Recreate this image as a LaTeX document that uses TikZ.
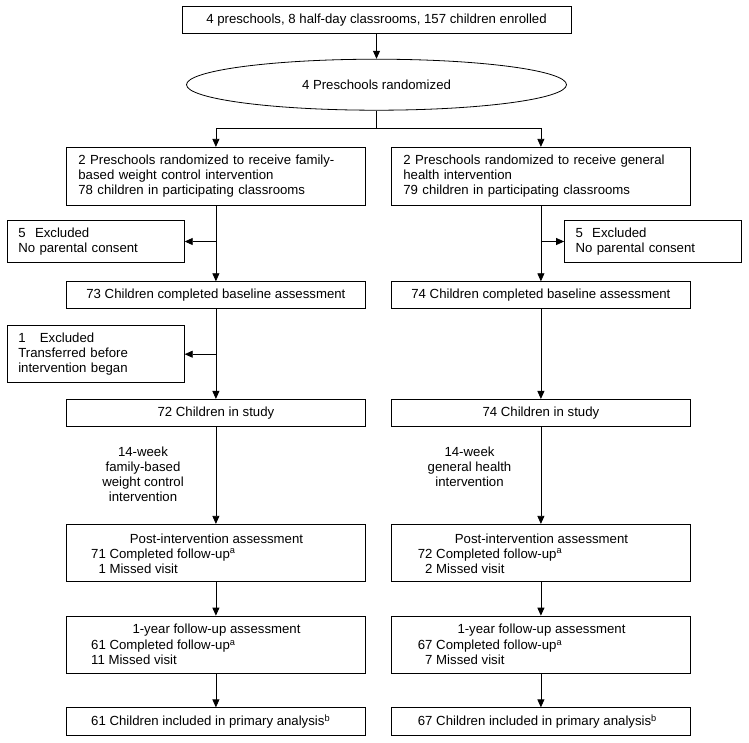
\documentclass[tikz,border=0pt]{standalone}
\usepackage{fontspec}
\setmainfont{Liberation Sans}
\usetikzlibrary{shapes.geometric,arrows.meta}
\tikzset{
  every node/.style={font=\fontsize{13.2}{15}\selectfont, inner sep=0pt},
  box/.style={draw, line width=0.8pt, minimum height=#1},
  colbox/.style={box=#1, minimum width=298.3pt},
  exbox/.style={box=#1, minimum width=177pt, text width=155pt, align=left},
  arr/.style={line width=0.8pt, -{Triangle[length=8pt,width=7pt]}},
  ln/.style={line width=0.8pt},
  lbl/.style={align=center},
  txt/.style={align=left, anchor=west}
}
\begin{document}
\begin{tikzpicture}[x=1pt,y=-1pt]
\useasboundingbox (0,0) rectangle (749,742);
% top
\node[box=26.6pt, minimum width=389pt] (top) at (376.5,20) {4 preschools, 8 half-day classrooms, 157 children enrolled};
\node[draw, ellipse, line width=0.8pt, minimum width=380pt, minimum height=51pt] (ell) at (376.5,84.7) {4 Preschools randomized};
\coordinate (sp) at (376.5,128.3);
% level 2
\node[colbox=58pt, text width=275pt, align=left] (L2L) at (215.9,176.3) {2 Preschools randomized to receive family-\\based weight control intervention\\78 children in participating classrooms};
\node[colbox=58pt, text width=275pt, align=left] (L2R) at (540.9,176.3) {2 Preschools randomized to receive general\\health intervention\\79 children in participating classrooms};
% excluded
\node[exbox=41.6pt] (exL) at (95.8,241.5) {5\hspace{9.4pt}Excluded\\No parental consent};
\node[exbox=41.6pt] (exR) at (653,241.5) {5\hspace{9.4pt}Excluded\\No parental consent};
% baseline
\node[colbox=26.6pt] (baseL) at (215.9,295) {73 Children completed baseline assessment};
\node[colbox=26.6pt] (baseR) at (540.9,295) {74 Children completed baseline assessment};
% excluded 1
\node[exbox=57pt] (ex1) at (95.8,354.2) {1\hspace{14.3pt}Excluded\\Transferred before\\intervention began};
% study
\node[colbox=26.7pt] (stL) at (215.9,412.7) {72 Children in study};
\node[colbox=26.7pt] (stR) at (540.9,412.7) {74 Children in study};
% labels
\node[lbl] (labL) at (143,474.3) {14-week\\family-based\\weight control\\intervention};
\node[lbl] (labR) at (469.5,466.5) {14-week\\general health\\intervention};
% post
\node[colbox=57pt] (postL) at (215.9,552.8) {};
\node[colbox=57pt] (postR) at (540.9,552.8) {};
\node (postLt) at (216.5,538.3) {Post-intervention assessment};
\node (postRt) at (541.5,538.3) {Post-intervention assessment};
\node[txt] (postLx) at (91,560.8) {71 Completed follow-up\textsuperscript{a}\\\phantom{0}1 Missed visit};
\node[txt] (postRx) at (417.7,560.8) {72 Completed follow-up\textsuperscript{a}\\\phantom{0}2 Missed visit};
% 1-year
\node[colbox=57.3pt] (oneL) at (215.9,644.7) {};
\node[colbox=57.3pt] (oneR) at (540.9,644.7) {};
\node (oneLt) at (216.5,630) {1-year follow-up assessment};
\node (oneRt) at (541.5,630) {1-year follow-up assessment};
\node[txt] (oneLx) at (91,652.5) {61 Completed follow-up\textsuperscript{a}\\11 Missed visit};
\node[txt] (oneRx) at (417.7,652.5) {67 Completed follow-up\textsuperscript{a}\\\phantom{0}7 Missed visit};
% final
\node[colbox=27.3pt] (finL) at (215.9,721.4) {};
\node[colbox=27.3pt] (finR) at (540.9,721.4) {};
\node[txt] (finLx) at (91,721.4) {61 Children included in primary analysis\textsuperscript{b}};
\node[txt] (finRx) at (417.7,721.4) {67 Children included in primary analysis\textsuperscript{b}};
% connectors
\draw[arr] (top.south) -- (ell.north);
\draw[ln] (ell.south) -- (sp);
\draw[arr] (sp) -| (L2L.north);
\draw[arr] (sp) -| (L2R.north);
\draw[arr] (L2L.south) -- (baseL.north);
\draw[arr] (L2R.south) -- (baseR.north);
\draw[arr] (L2L.south |- exL.east) -- (exL.east);
\draw[arr] (L2R.south |- exR.west) -- (exR.west);
\draw[arr] (baseL.south) -- (stL.north);
\draw[arr] (baseR.south) -- (stR.north);
\draw[arr] (baseL.south |- ex1.east) -- (ex1.east);
\draw[arr] (stL.south) -- (postL.north);
\draw[arr] (stR.south) -- (postR.north);
\draw[arr] (postL.south) -- (oneL.north);
\draw[arr] (postR.south) -- (oneR.north);
\draw[arr] (oneL.south) -- (finL.north);
\draw[arr] (oneR.south) -- (finR.north);
\end{tikzpicture}
\end{document}
